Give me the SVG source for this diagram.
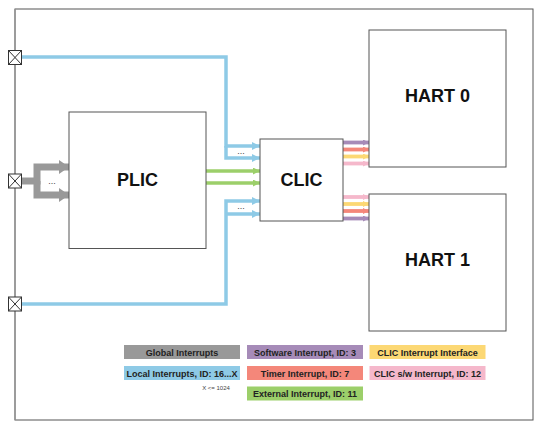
<svg xmlns="http://www.w3.org/2000/svg" width="545" height="431" viewBox="0 0 545 431">
<style>
.box{fill:#fff;stroke:#555;stroke-width:1}
.title{font-family:"Liberation Sans",Arial,sans-serif;font-weight:bold;font-size:18px;fill:#111;text-anchor:middle}
.leg{font-family:"Liberation Sans",Arial,sans-serif;font-weight:bold;font-size:9px;fill:#222;text-anchor:middle}
.dots{font-family:"Liberation Sans",Arial,sans-serif;font-size:9px;fill:#444;text-anchor:middle}
.small{font-family:"Liberation Sans",Arial,sans-serif;font-size:6px;fill:#444;text-anchor:middle}
.blue{fill:none;stroke:#8ecae6;stroke-width:3.5}
.green{fill:none;stroke:#9ccf6a;stroke-width:3.5}
.out{fill:none;stroke-width:3.8}
.pin{fill:#fff;stroke:#333;stroke-width:1}
</style>
<defs>
<marker id="ab" markerUnits="userSpaceOnUse" markerWidth="8" markerHeight="8" refX="8" refY="4" orient="auto"><path d="M0,0 L8,4 L0,8 z" fill="#8ecae6"/></marker>
<marker id="ag" markerUnits="userSpaceOnUse" markerWidth="7" markerHeight="7" refX="7" refY="3.5" orient="auto"><path d="M0,0 L7,3.5 L0,7 z" fill="#9ccf6a"/></marker>
<marker id="agr" markerUnits="userSpaceOnUse" markerWidth="10" markerHeight="14" refX="10" refY="7" orient="auto"><path d="M0,0 L10,7 L0,14 z" fill="#999"/></marker>
<marker id="ap" markerUnits="userSpaceOnUse" markerWidth="6" markerHeight="6" refX="6" refY="3" orient="auto"><path d="M0,0 L6,3 L0,6 z" fill="#a68bb8"/></marker>
<marker id="ar" markerUnits="userSpaceOnUse" markerWidth="6" markerHeight="6" refX="6" refY="3" orient="auto"><path d="M0,0 L6,3 L0,6 z" fill="#f4877a"/></marker>
<marker id="ay" markerUnits="userSpaceOnUse" markerWidth="6" markerHeight="6" refX="6" refY="3" orient="auto"><path d="M0,0 L6,3 L0,6 z" fill="#fcd874"/></marker>
<marker id="ak" markerUnits="userSpaceOnUse" markerWidth="6" markerHeight="6" refX="6" refY="3" orient="auto"><path d="M0,0 L6,3 L0,6 z" fill="#f5b8cb"/></marker>
</defs>

<g id="frame">
<rect x="15" y="9" width="518" height="411" fill="#fff" stroke="#555" stroke-width="1"/>
<line x1="15" y1="9" x2="15" y2="420" stroke="#999" stroke-width="1.5"/>
</g>

<g id="connectors">
<path class="blue" d="M22,57 H226 V146 H260" marker-end="url(#ab)"/>
<path class="blue" d="M226,146 V158 H260" marker-end="url(#ab)"/>
<path class="blue" d="M22,304 H226 V201 H260" marker-end="url(#ab)"/>
<path class="blue" d="M226,214 H260" marker-end="url(#ab)"/>
<path class="green" d="M206,171 H260" marker-end="url(#ag)"/>
<path class="green" d="M206,183 H260" marker-end="url(#ag)"/>
<path d="M22,181 H37 V167 H69" fill="none" stroke="#999" stroke-width="7" marker-end="url(#agr)"/>
<path d="M37,181 V195 H69" fill="none" stroke="#999" stroke-width="7" marker-end="url(#agr)"/>
<path class="out" d="M343,142.5 H369" stroke="#a68bb8" marker-end="url(#ap)"/>
<path class="out" d="M343,149.5 H369" stroke="#f4877a" marker-end="url(#ar)"/>
<path class="out" d="M343,156.5 H369" stroke="#fcd874" marker-end="url(#ay)"/>
<path class="out" d="M343,163.5 H369" stroke="#f5b8cb" marker-end="url(#ak)"/>
<path class="out" d="M343,197 H369" stroke="#f5b8cb" marker-end="url(#ak)"/>
<path class="out" d="M343,204 H369" stroke="#fcd874" marker-end="url(#ay)"/>
<path class="out" d="M343,211 H369" stroke="#f4877a" marker-end="url(#ar)"/>
<path class="out" d="M343,218.5 H369" stroke="#a68bb8" marker-end="url(#ap)"/>
<text class="dots" x="241" y="154">...</text>
<text class="dots" x="241" y="209">...</text>
<text class="dots" x="52" y="184">...</text>
</g>

<g id="pin0"><rect class="pin" x="8.5" y="50.5" width="13" height="14"/><path d="M8.5,50.5 L21.5,64.5 M21.5,50.5 L8.5,64.5" stroke="#333" stroke-width="1"/></g>
<g id="pin1"><rect class="pin" x="8.5" y="174" width="13" height="14"/><path d="M8.5,174 L21.5,188 M21.5,174 L8.5,188" stroke="#333" stroke-width="1"/></g>
<g id="pin2"><rect class="pin" x="8.5" y="297" width="13" height="14"/><path d="M8.5,297 L21.5,311 M21.5,297 L8.5,311" stroke="#333" stroke-width="1"/></g>

<g id="plic"><rect class="box" x="69" y="112" width="137" height="136.5"/><text class="title" x="137.5" y="186">PLIC</text></g>
<g id="clic"><rect class="box" x="260" y="139" width="83" height="82"/><text class="title" x="301.5" y="186">CLIC</text></g>
<g id="hart0"><rect class="box" x="369" y="30" width="137" height="137"/><text class="title" x="437.5" y="102">HART 0</text></g>
<g id="hart1"><rect class="box" x="369" y="194" width="137" height="137"/><text class="title" x="437.5" y="266">HART 1</text></g>

<g id="legend">
<rect x="124" y="345" width="116" height="14" fill="#999"/><text class="leg" x="182" y="355.5">Global Interrupts</text>
<rect x="124" y="366" width="116" height="14" fill="#8ecae6"/><text class="leg" x="182" y="376.5">Local Interrupts, ID: 16...X</text>
<text class="small" x="216" y="390">X &lt;= 1024</text>
<rect x="247" y="345" width="116" height="14" fill="#a68bb8"/><text class="leg" x="305" y="355.5">Software Interrupt, ID: 3</text>
<rect x="247" y="366" width="116" height="14" fill="#f4877a"/><text class="leg" x="305" y="376.5">Timer Interrupt, ID: 7</text>
<rect x="247" y="386.5" width="116" height="14" fill="#9ccf6a"/><text class="leg" x="305" y="397">External Interrupt, ID: 11</text>
<rect x="369.5" y="345" width="116" height="14" fill="#fcd874"/><text class="leg" x="427.5" y="355.5">CLIC Interrupt Interface</text>
<rect x="369.5" y="366" width="116" height="14" fill="#f5b8cb"/><text class="leg" x="427.5" y="376.5">CLIC s/w Interrupt, ID: 12</text>
</g>
</svg>
